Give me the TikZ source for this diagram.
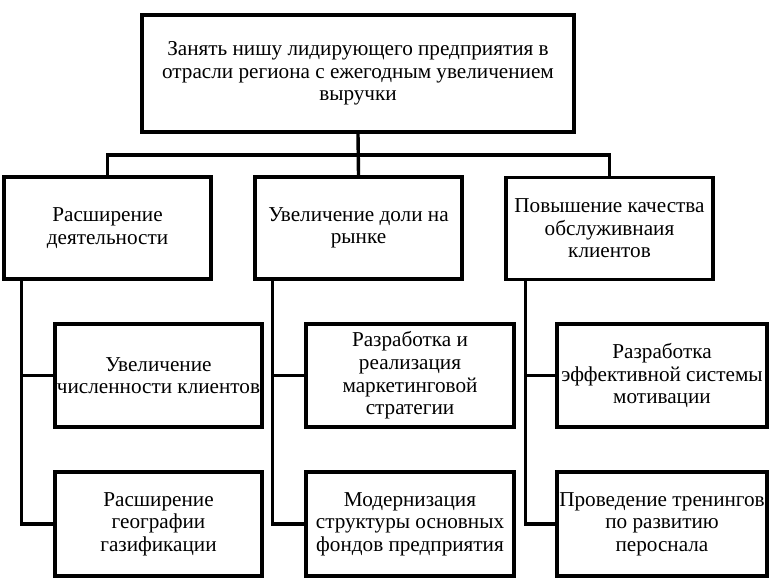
\documentclass[tikz,border=0pt]{standalone}
\usepackage{fontspec}
\setmainfont{Liberation Serif}
\usetikzlibrary{calc}
\begin{document}
\begin{tikzpicture}[x=1pt,y=-1pt,
  box/.style={draw=black, line width=3.4pt, inner sep=0pt, align=center,
    font=\fontsize{21.2}{22.6}\selectfont, minimum height=103pt, minimum width=207pt},
  conn/.style={draw=black, line width=3.4pt}]
\useasboundingbox (0,0) rectangle (778,588);
\node[box, minimum width=432pt, minimum height=117pt] (top) at (358,73.5)
  {Занять нишу лидирующего предприятия в\\отрасли региона с ежегодным увеличением\\выручки};
\node[box, minimum height=102pt] (b1) at (107.5,228) {Расширение\\деятельности};
\node[box, minimum height=102pt] (b2) at (358.5,228) {Увеличение доли на\\рынке};
\node[box, minimum height=102pt] (b3) at (609.5,228.5) {Повышение качества\\обслуживнаия\\клиентов};
\node[box] (c11) at (158.5,375.5) {Увеличение\\\makebox[0pt]{численности клиентов}};
\node[box, minimum height=104pt] (c12) at (158.5,524) {Расширение\\географии\\газификации};
\node[box, minimum width=208pt] (c21) at (410,375.5) {Разработка и\\реализация\\маркетинговой\\стратегии};
\node[box, minimum width=208pt, minimum height=104pt] (c22) at (410,524) {Модернизация\\структуры основных\\фондов предприятия};
\node[box, minimum width=210pt] (c31) at (662,375.5) {Разработка\\\makebox[0pt]{эффективной системы}\\мотивации};
\node[box, minimum width=210pt, minimum height=104pt] (c32) at (662,524) {\makebox[0pt]{Проведение тренингов}\\по развитию\\пероснала};
\draw[conn] (top.south) -- (b2.north);
\coordinate (bus) at (358,155);
\draw[conn] (b1.north) |- (bus) -| (b3.north);
\coordinate (s1) at ($(b1.south west)+(19,0)$);
\coordinate (s2) at ($(b2.south west)+(19,0)$);
\coordinate (s3) at ($(b3.south west)+(21,0)$);
\draw[conn] (s1) |- (c12.west);
\draw[conn] (c11.west) -- (c11.west -| s1);
\draw[conn] (s2) |- (c22.west);
\draw[conn] (c21.west) -- (c21.west -| s2);
\draw[conn] (s3) |- (c32.west);
\draw[conn] (c31.west) -- (c31.west -| s3);
\end{tikzpicture}
\end{document}
